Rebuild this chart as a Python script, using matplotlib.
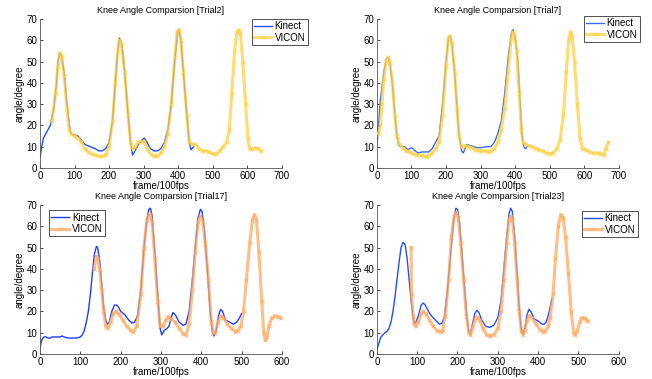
import matplotlib
matplotlib.use('Agg')
import matplotlib.pyplot as plt

plt.rcParams['font.family'] = ['Liberation Sans', 'DejaVu Sans']

# ---- Trial2 ----
t2_kin_x = [0, 5, 10, 20, 30, 40, 48, 52, 57, 62, 70, 78, 85, 90, 100, 110, 120, 130, 145, 160, 170,
            180, 190, 200, 210, 218, 225, 230, 237, 245, 255, 262, 268, 275, 285, 295, 302, 310, 320,
            330, 340, 350, 360, 370, 380, 390, 398, 402, 408, 415, 425, 432, 437, 445]
t2_kin_y = [5, 10, 14, 17, 20, 28, 40, 50, 54, 53, 45, 30, 20, 16, 15.5, 15, 13, 11, 10, 9, 8,
            8, 9, 12, 22, 40, 55, 61, 58, 45, 25, 12, 6, 8, 11, 13, 14, 12, 9,
            8, 8, 9, 12, 18, 30, 50, 63, 65, 60, 45, 25, 12, 8.5, 10]
t2_vic_x = [35, 45, 52, 58, 63, 70, 78, 85, 90, 100, 110, 120, 130, 140, 150, 160, 170, 180, 190, 200,
            210, 218, 225, 230, 236, 245, 255, 262, 268, 275, 285, 295, 302, 310, 320, 330, 340, 350,
            360, 370, 380, 390, 397, 402, 408, 415, 425, 432, 440, 450, 460, 470, 480, 490, 500, 510,
            520, 530, 540, 548, 555, 563, 570, 575, 580, 587, 595, 602, 607, 615, 625, 632, 640]
t2_vic_y = [22, 35, 48, 54, 52, 43, 28, 18, 16, 15, 14, 12, 9, 7.5, 6.5, 6, 5.5, 5.5, 6, 10,
            22, 40, 55, 60, 58, 45, 25, 12, 9, 10, 12, 12.5, 12, 9, 6.5, 5.5, 5.5, 7,
            10, 16, 30, 52, 64, 65, 60, 45, 25, 12, 11, 11, 9, 8, 8, 7.5, 6.5, 6.5,
            8, 10, 12, 18, 35, 55, 64, 65, 63, 50, 30, 14, 9, 9, 9.5, 9, 8]

# ---- Trial7 ----
t7_kin_x = [0, 5, 10, 15, 20, 27, 32, 37, 45, 52, 58, 63, 70, 80, 90, 100, 105, 110, 120, 130, 140,
            150, 160, 170, 180, 190, 200, 207, 212, 217, 225, 232, 238, 245, 250, 255, 260, 270, 280,
            290, 300, 320, 330, 340, 350, 360, 370, 380, 390, 394, 400, 408, 415, 420, 425, 430, 435]
t7_kin_y = [10, 20, 32, 38, 45, 51, 52, 50, 40, 25, 15, 10.5, 10, 10, 8.5, 9.5, 9, 8, 7, 7.5, 7.5,
            7.5, 9, 12, 15, 30, 50, 61, 62, 58, 45, 28, 15, 8, 7, 9, 11, 10.5, 10,
            9.5, 9.5, 10, 10, 12, 16, 22, 35, 52, 64, 65, 62, 50, 30, 15, 10, 9, 10]
t7_vic_x = [5, 10, 15, 20, 27, 32, 37, 45, 52, 58, 65, 75, 85, 95, 105, 115, 125, 135, 145, 150,
            160, 170, 180, 190, 200, 207, 212, 218, 225, 232, 238, 245, 255, 265, 275, 285, 295, 305,
            315, 325, 330, 340, 350, 360, 370, 380, 388, 393, 398, 405, 412, 418, 423, 430, 440, 450,
            460, 470, 480, 490, 500, 510, 520, 530, 540, 548, 555, 560, 565, 572, 580, 588, 595, 605,
            615, 625, 640, 650, 658, 662, 670]
t7_vic_y = [16, 20, 30, 42, 50, 52, 50, 40, 25, 15, 11, 9.5, 8, 7.5, 6.5, 6, 6, 5.5, 5, 6,
            7, 9, 12, 25, 48, 61, 62, 58, 45, 28, 15, 10, 10.5, 10, 9.5, 8.5, 8, 8,
            8, 7.5, 8, 9, 12, 18, 28, 45, 60, 64, 63, 55, 35, 18, 12, 11, 10.5, 10,
            9, 8.5, 8, 7, 6.5, 7, 9, 13, 25, 45, 60, 64, 62, 50, 30, 14, 9, 8.5,
            7.5, 7, 7, 6.5, 6, 9, 12]

# ---- Trial17 ----
t17_kin_x = [0, 5, 10, 15, 20, 25, 30, 40, 50, 55, 60, 70, 80, 90, 100, 105, 110, 115, 120, 125, 130,
             135, 140, 143, 148, 153, 158, 163, 167, 172, 178, 185, 190, 195, 200, 210, 220, 228, 235,
             242, 250, 258, 265, 270, 274, 278, 285, 292, 298, 302, 308, 315, 320, 325, 330, 337, 345,
             355, 362, 370, 378, 385, 392, 398, 402, 408, 415, 422, 428, 432, 437, 443, 448, 453, 460,
             470, 480, 488, 495, 500]
t17_kin_y = [3, 7, 8, 8, 7.5, 7.5, 8, 8, 8, 8.5, 8, 7.5, 7.5, 7.5, 8, 9, 11, 15, 20, 28, 38,
             47, 50.5, 50, 44, 33, 22, 16, 14, 15, 20, 23, 23, 22, 20, 18.5, 16, 14.5, 15,
             18, 30, 50, 63, 68, 68.5, 65, 48, 28, 12, 9, 11, 12, 13, 17, 19.5, 18, 15,
             13.5, 14, 20, 35, 50, 64, 68, 67, 58, 40, 20, 10, 8.5, 11, 18, 21, 20, 16,
             15, 14, 15, 17, 19]
t17_vic_x = [135, 140, 143, 148, 153, 158, 163, 168, 175, 182, 188, 195, 205, 215, 225, 232, 240, 250,
             258, 265, 272, 278, 285, 292, 298, 305, 312, 318, 325, 335, 345, 355, 362, 370, 378, 385,
             392, 398, 404, 410, 418, 425, 430, 435, 442, 448, 455, 465, 475, 485, 490, 498, 505, 512,
             520, 527, 532, 537, 543, 550, 555, 559, 563, 568, 575, 583, 590, 597]
t17_vic_y = [40, 46, 45, 40, 30, 20, 13, 12, 15, 19, 20, 19, 16, 13, 11, 10.5, 13, 28,
             50, 63, 66, 62, 45, 25, 13, 13, 16, 17.5, 16.5, 15, 12, 9.5, 9, 14, 30, 48,
             62, 65, 62, 52, 35, 15, 10, 10, 15, 18, 17, 14, 12, 10.5, 11, 13, 20, 35,
             52, 63, 65.5, 63, 48, 25, 10, 6.5, 8, 13, 17, 18, 17.5, 17]

# ---- Trial23 ----
t23_kin_x = [0, 5, 10, 15, 20, 25, 30, 35, 40, 45, 50, 55, 60, 65, 70, 75, 80, 85, 90, 93, 97, 103,
             110, 115, 120, 128, 135, 145, 155, 162, 168, 175, 182, 190, 196, 200, 205, 212, 218, 223,
             228, 232, 237, 243, 248, 253, 260, 270, 280, 290, 300, 308, 315, 322, 328, 332, 336, 342,
             348, 353, 358, 362, 367, 372, 377, 382, 390, 400, 410, 415, 420, 425, 430, 434]
t23_kin_y = [2, 5, 8, 9, 10, 10.5, 12, 15, 20, 27, 35, 43, 50, 52.5, 51.5, 45, 35, 25, 17, 14.5, 15, 18,
             23, 24, 23, 20, 18, 16, 14, 14.5, 18, 30, 45, 62, 68.5, 68, 62, 45, 30, 18,
             10, 9.5, 14, 19, 20.5, 19.5, 16, 13, 12.5, 13.5, 17, 25, 40, 55, 66, 68.5, 67, 55,
             38, 22, 12, 9.5, 12, 18, 21, 20, 16.5, 15.5, 14, 14, 15, 18, 22, 26]
t23_vic_x = [85, 86, 90, 93, 97, 103, 110, 115, 122, 130, 140, 150, 158, 163, 170, 178, 185, 192, 197,
             202, 208, 215, 222, 228, 232, 237, 243, 248, 255, 263, 272, 280, 290, 300, 308, 315, 322,
             328, 332, 336, 342, 348, 353, 358, 362, 367, 372, 378, 385, 395, 405, 412, 418, 425, 430,
             437, 443, 450, 456, 462, 468, 475, 482, 488, 492, 497, 503, 508, 515, 520, 523]
t23_vic_y = [50, 28, 18, 14, 13, 15, 19, 20, 19, 16, 13, 11, 10.5, 11, 18, 35, 55, 65, 66.5,
             64, 52, 35, 18, 10, 9, 12, 16, 17.5, 16, 12, 9, 8.5, 9, 12, 20, 35, 52,
             63, 65, 63, 52, 35, 20, 11, 9, 11, 15.5, 18, 17, 14, 11.5, 10.5, 11, 13, 17,
             28, 45, 60, 65.5, 64, 55, 38, 20, 10, 9, 11, 15, 17, 17, 16, 15.5]

trials = ['Trial2', 'Trial7', 'Trial17', 'Trial23']
kinect = [(t2_kin_x, t2_kin_y), (t7_kin_x, t7_kin_y), (t17_kin_x, t17_kin_y), (t23_kin_x, t23_kin_y)]
vicon = [(t2_vic_x, t2_vic_y), (t7_vic_x, t7_vic_y), (t17_vic_x, t17_vic_y), (t23_vic_x, t23_vic_y)]
kin_colors = ['#1f4fff', '#3a6cf0', '#1f3cff', '#1f4fff']
vic_colors = ['#ffd040', '#ffd040', '#ffa860', '#ffa860']
xmax = [700, 700, 600, 600]

# axes rectangles in figure fractions [left, bottom, width, height]
rects = [[0.0613, 0.557, 0.371, 0.393], [0.578, 0.557, 0.371, 0.393],
         [0.0613, 0.066, 0.371, 0.393], [0.578, 0.066, 0.371, 0.393]]
# legend upper-left anchor in axes coords
leg_anchor = [(0.876, 1.0), (0.855, 1.02), (0.037, 0.966), (0.847, 0.96)]

fig = plt.figure(figsize=(6.52, 3.79), dpi=100)

for i in range(4):
    ax = fig.add_axes(rects[i])
    kx, ky = kinect[i]
    vx, vy = vicon[i]
    ax.plot(kx, ky, color=kin_colors[i], lw=1.0, label='Kinect', zorder=2)
    ax.plot(vx, vy, color=vic_colors[i], lw=2.2, marker='x', ms=2.5, mew=0.7,
            alpha=0.75, label='VICON', zorder=3)
    ax.set_xlim(0, xmax[i])
    ax.set_ylim(0, 70)
    ax.set_xticks(range(0, xmax[i] + 1, 100))
    ax.set_yticks(range(0, 71, 10))
    ax.spines['top'].set_visible(False)
    ax.spines['right'].set_visible(False)
    ax.spines['left'].set_color('#555555')
    ax.spines['bottom'].set_color('#555555')
    ax.spines['left'].set_linewidth(0.6)
    ax.spines['bottom'].set_linewidth(0.6)
    ax.tick_params(direction='in', length=2.5, width=0.5, labelsize=7, pad=2)
    ax.set_title('Knee Angle Comparsion [%s]' % trials[i], fontsize=6.5, pad=4)
    ax.set_xlabel('frame/100fps', fontsize=7, labelpad=0)
    ax.set_ylabel('angle/degree', fontsize=7, labelpad=1)
    leg = ax.legend(loc='upper left', bbox_to_anchor=leg_anchor[i], fontsize=7,
                    fancybox=False, framealpha=1, edgecolor='#333333',
                    handlelength=1.8, handletextpad=0.3, borderpad=0.25,
                    labelspacing=0.15, borderaxespad=0)
    leg.get_frame().set_linewidth(0.6)

fig.savefig('out.png', dpi=100)
